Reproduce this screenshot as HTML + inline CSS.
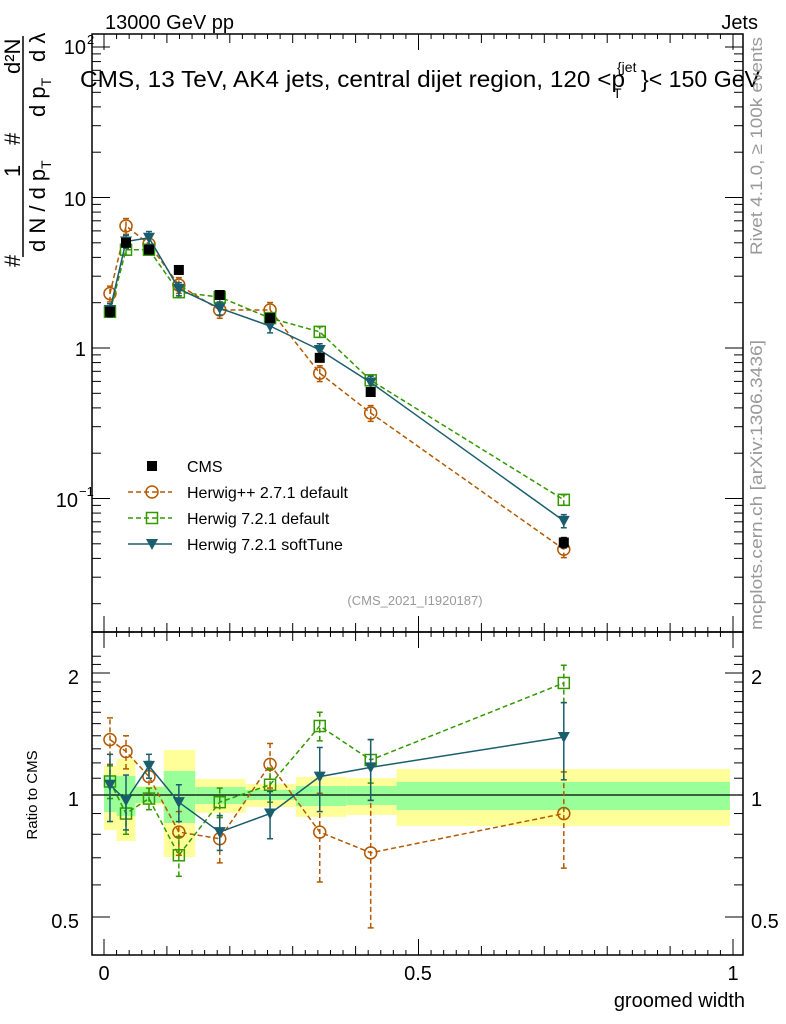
<!DOCTYPE html>
<html><head><meta charset="utf-8"><style>
body{margin:0;background:#fff;}
svg{display:block;font-family:"Liberation Sans",sans-serif;}
</style></head><body>
<svg id="c" width="786" height="1024" viewBox="0 0 786 1024"></svg>
<script>
const xCenters=[0.0095,0.035,0.0715,0.119,0.184,0.264,0.343,0.424,0.731];
const binEdges=[0,0.02,0.05,0.095,0.145,0.225,0.305,0.385,0.465,0.995];
const cmsVals=[1.74,5.0,4.5,3.3,2.25,1.58,0.86,0.51,0.051];
const cmsErr=[0.12,0.3,0.2,0.2,0.1,0.08,0.05,0.03,0.004];
const hppVals=[2.3,6.47,4.9,2.62,1.79,1.79,0.68,0.37,0.046];
const h721Vals=[1.74,4.5,4.5,2.35,2.18,1.58,1.28,0.61,0.098];
const softVals=[1.79,5.1,5.4,2.47,1.84,1.40,0.97,0.59,0.071];
const hppRatio=[1.37,1.28,1.11,0.81,0.78,1.19,0.81,0.72,0.90];
const h721Ratio=[1.08,0.90,0.98,0.71,0.96,1.06,1.48,1.22,1.89];
const softRatio=[1.06,0.97,1.18,0.96,0.81,0.90,1.11,1.17,1.39];
const hppRErr=[0.18,0.12,0.1,0.1,0.1,0.15,0.2,0.25,0.24];
const h721RErr=[0.1,0.1,0.06,0.08,0.08,0.1,0.12,0.15,0.2];
const softRErr=[0.2,0.15,0.08,0.1,0.08,0.12,0.2,0.2,0.3];
const greenLo=[0.908,0.888,0.956,0.853,0.950,0.972,0.939,0.945,0.918];
const greenHi=[1.114,1.114,1.046,1.146,1.046,1.029,1.052,1.052,1.077];
const yellowLo=[0.820,0.770,0.945,0.703,0.903,0.934,0.883,0.893,0.839];
const yellowHi=[1.179,1.227,1.052,1.291,1.095,1.064,1.108,1.101,1.159];

const NS="http://www.w3.org/2000/svg";
const svg=document.getElementById('c');
function el(tag,attrs,parent,text){const e=document.createElementNS(NS,tag);for(const k in attrs)e.setAttribute(k,attrs[k]);if(text!==undefined)e.textContent=text;(parent||svg).appendChild(e);return e;}
const L=92,R=743,T=34,M=632,B=955;
const X=v=>104+v*629;
const Y=v=>348-Math.log10(v)*150.5;
const RY=v=>795-Math.log2(v)*122;

const bands=el('g',{},svg);
for(let i=0;i<xCenters.length;i++){
 const x0=X(binEdges[i]),x1=X(binEdges[i+1]);
 const y=el('rect',{x:x0,y:RY(yellowHi[i]),width:x1-x0,height:RY(yellowLo[i])-RY(yellowHi[i]),fill:'#ffff99'},bands);
 
 const g=el('rect',{x:x0,y:RY(greenHi[i]),width:x1-x0,height:RY(greenLo[i])-RY(greenHi[i]),fill:'#99ff99'},bands);
 
}
el('line',{x1:L,x2:R,y1:RY(1),y2:RY(1),stroke:'#000','stroke-width':1.2});

const fr=el('g',{fill:'none',stroke:'#000','stroke-width':1.5});
el('rect',{x:L,y:T,width:R-L,height:M-T},fr);
el('rect',{x:L,y:M,width:R-L,height:B-M},fr);
for(let k=0;k<=10;k++){const x=X(k/10);const big=k%5==0;const l=big?16:9;
 for(const [y0,d] of [[T,1],[M,-1],[M,1],[B,-1]]) el('line',{x1:x,x2:x,y1:y0,y2:y0+d*l,stroke:'#000'});
 for(let m=1;m<5&&k<10;m++){const xm=X(k/10+m/50);for(const [y0,d] of [[T,1],[M,-1],[M,1],[B,-1]]) el('line',{x1:xm,x2:xm,y1:y0,y2:y0+d*5,stroke:'#000'});}
}
for(let e=-2;e<=2;e++){for(let m=1;m<10;m++){const v=m*Math.pow(10,e);const y=Y(v);if(y<T||y>M)continue;const l=m==1?18:9;
 el('line',{x1:L,x2:L+l,y1:y,y2:y,stroke:'#000'});el('line',{x1:R,x2:R-l,y1:y,y2:y,stroke:'#000'});}}
[0.5,0.6,0.7,0.8,0.9,1,1.1,1.2,1.3,1.4,1.5,1.6,1.7,1.8,1.9,2,2.1,2.2].forEach(v=>{const y=RY(v);const l=(v==0.5||v==1||v==2)?18:9;
 el('line',{x1:L,x2:L+l,y1:y,y2:y,stroke:'#000'});el('line',{x1:R,x2:R-l,y1:y,y2:y,stroke:'#000'});});

const t=(x,y,s,attrs,name)=>{const e=el('text',Object.assign({x:x,y:y,'font-size':20},attrs||{}),svg,s);return e;};
t(105,29,'13000 GeV pp',{},'energy-label');
t(758,29,'Jets',{'text-anchor':'end'},'analysis-label');
t(86,54,'10',{'text-anchor':'end'},'ytick-100');t(87,44,'2',{'font-size':13},'ytick-100-exp');
t(86,206,'10',{'text-anchor':'end'},'ytick-10');
t(86,356,'1',{'text-anchor':'end'},'ytick-1');
t(78,507,'10',{'text-anchor':'end'},'ytick-0.1');t(79,496,'−1',{'font-size':13},'ytick-0.1-exp');
t(79,684,'2',{'text-anchor':'end'},'ratio-ytick-2');t(79,806,'1',{'text-anchor':'end'},'ratio-ytick-1');t(79,928,'0.5',{'text-anchor':'end'},'ratio-ytick-0.5');
t(751,684,'2',{},'ratio-ytick-2-right');t(751,806,'1',{},'ratio-ytick-1-right');t(751,928,'0.5',{},'ratio-ytick-0.5-right');
t(104,980,'0',{'text-anchor':'middle'},'xtick-0');t(418,980,'0.5',{'text-anchor':'middle'},'xtick-0.5');t(733,980,'1',{'text-anchor':'middle'},'xtick-1');
t(745,1007,'groomed width',{'text-anchor':'end'},'x-axis-title');
t(80,87,'CMS, 13 TeV, AK4 jets, central dijet region, 120 <p',{textLength:545,lengthAdjust:'spacingAndGlyphs','font-size':23},'plot-title');
t(613,98,'T',{'font-size':14},'title-sub');t(617,72,'{jet',{'font-size':14},'title-sup');
t(641,87,'}< 150 GeV',{'font-size':23,textLength:119,lengthAdjust:'spacingAndGlyphs'},'plot-title-end');
t(415,605,'(CMS_2021_I1920187)',{'text-anchor':'middle','font-size':13,fill:'#999'},'analysis-id');
t(0,0,'Rivet 4.1.0, ≥ 100k events',{'font-size':17,fill:'#999',textLength:218,lengthAdjust:'spacingAndGlyphs',transform:'translate(762,255) rotate(-90)'},'rivet-label');
t(0,0,'mcplots.cern.ch [arXiv:1306.3436]',{'font-size':17,fill:'#999',textLength:290,lengthAdjust:'spacingAndGlyphs',transform:'translate(762,630) rotate(-90)'},'mcplots-label');
t(0,0,'Ratio to CMS',{'font-size':15,'text-anchor':'middle',transform:'translate(37,795) rotate(-90)'},'ratio-y-title');
t(0,0,'#',{'font-size':22,transform:'translate(20,267) rotate(-90)'},'y-title-hash1');
t(0,0,'1',{'font-size':22,transform:'translate(20,177) rotate(-90)'},'y-title-one');
t(0,0,'#',{'font-size':22,transform:'translate(20,145) rotate(-90)'},'y-title-hash2');
t(0,0,'d²N',{'font-size':22,transform:'translate(20,74) rotate(-90)'},'y-title-num');
const t1=t(0,0,'d N / d p',{'font-size':22,transform:'translate(45,252) rotate(-90)'},'y-title-denom1');
el('tspan',{dy:6,'font-size':14},t1,'T');
const t2=t(0,0,'d p',{'font-size':22,transform:'translate(45,117) rotate(-90)'},'y-title-denom2');
el('tspan',{dy:6,'font-size':14},t2,'T');
t(0,0,'d λ',{'font-size':22,transform:'translate(45,62) rotate(-90)'},'y-title-denom3');
el('line',{x1:23,x2:23,y1:36,y2:257,stroke:'#000','stroke-width':1.5});

function series(vals,errs,col,dash,marker,name,useRatio){
 const g=el('g',{},svg);
 const pts=xCenters.map((x,i)=>[X(x),useRatio?RY(vals[i]):Y(vals[i])]);
 if(dash!==null){el('polyline',{points:pts.map(p=>p.join(',')).join(' '),fill:'none',stroke:col,'stroke-width':1.5,'stroke-dasharray':dash},g);}
 pts.forEach((p,i)=>{
  if(errs){const lo=useRatio?RY(vals[i]-errs[i]):Y(vals[i]-errs[i]);const hi=useRatio?RY(vals[i]+errs[i]):Y(vals[i]+errs[i]);
   el('line',{x1:p[0],x2:p[0],y1:lo,y2:hi,stroke:col,'stroke-width':1.5,'stroke-dasharray':dash||'none'},g);
   el('line',{x1:p[0]-3,x2:p[0]+3,y1:lo,y2:lo,stroke:col,'stroke-width':1.5},g);el('line',{x1:p[0]-3,x2:p[0]+3,y1:hi,y2:hi,stroke:col,'stroke-width':1.5},g);}
  drawMarker(g,marker,p[0],p[1],col);
 });
}
function drawMarker(g,m,x,y,col){let e;
 if(m=='sq')e=el('rect',{x:x-5,y:y-5,width:10,height:10,fill:'#000'},g);
 else if(m=='circ')e=el('circle',{cx:x,cy:y,r:6,fill:'none',stroke:col,'stroke-width':1.5},g);
 else if(m=='osq')e=el('rect',{x:x-5.5,y:y-5.5,width:11,height:11,fill:'none',stroke:col,'stroke-width':1.5},g);
 else e=el('polygon',{points:`${x-6},${y-5} ${x+6},${y-5} ${x},${y+6}`,fill:col},g);
 }
const cB='#b35900',cG='#339900',cS='#1a5e6e';
series(hppVals,hppVals.map(v=>v*0.12),cB,'5,3','circ','herwigpp-main',false);
series(h721Vals,h721Vals.map(v=>v*0.08),cG,'5,3','osq','herwig721-main',false);
series(softVals,softVals.map(v=>v*0.1),cS,'','tri','softtune-main',false);
series(cmsVals,cmsErr,'#000',null,'sq','cms-data',false);
series(hppRatio,hppRErr,cB,'5,3','circ','herwigpp-ratio',true);
series(h721Ratio,h721RErr,cG,'5,3','osq','herwig721-ratio',true);
series(softRatio,softRErr,cS,'','tri','softtune-ratio',true);

const lg=el('g',{},svg);
[['CMS','#000',null,'sq'],['Herwig++ 2.7.1 default',cB,'5,3','circ'],['Herwig 7.2.1 default',cG,'5,3','osq'],['Herwig 7.2.1 softTune',cS,'','tri']].forEach((d,i)=>{
 const y=466+i*26;
 if(d[2]!==null)el('line',{x1:128,x2:172,y1:y,y2:y,stroke:d[1],'stroke-width':1.5,'stroke-dasharray':d[2]},lg);
 drawMarker(lg,d[3],152,y,d[1]);
 const tx=el('text',{x:187,y:y+6,'font-size':16},lg,d[0]);
});
</script>
</body></html>
